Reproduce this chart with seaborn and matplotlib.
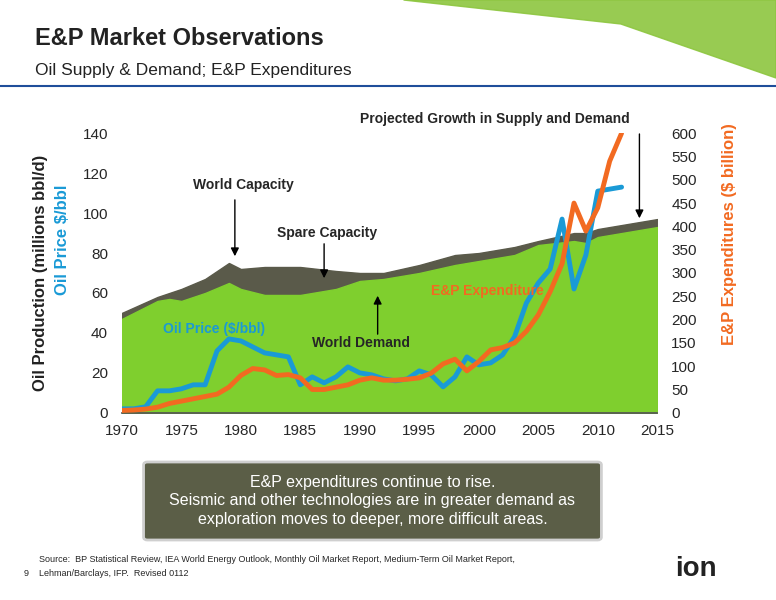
import numpy as np
import pandas as pd
import matplotlib
matplotlib.use("Agg")
import matplotlib.pyplot as plt
import seaborn as sns
from matplotlib.patches import FancyBboxPatch, Polygon

sns.set_theme(style="white")
plt.rcParams['font.family'] = ['Liberation Sans', 'DejaVu Sans']

cap_years = [1970,1973,1974,1975,1977,1979,1980,1982,1985,1988,1990,1992,1995,1998,2000,2003,2005,2008,2009,2010,2012,2015]
capacity  = [50,58,60,62,67,75,72,73,73,71,70,70,74,79,80,83,86,90,90,92,94,97]
demand    = [47,56,57,56,60,65,62,59,59,62,66,67,70,74,76,79,84,86,85,88,90,93]

price_years = list(range(1970,2013))
oil_price = [2,2,3,11,11,12,14,14,31,37,36,33,30,29,28,14,18,15,18,23,20,19,17,16,17,21,19,13,18,28,24,25,29,38,55,65,72,97,62,79,111,112,113]

exp_years = list(range(1970,2013))
expenditure = [5,6,8,12,20,25,30,35,40,55,80,95,92,80,82,75,50,50,55,60,70,75,70,70,72,75,85,105,115,90,110,135,140,150,175,210,260,320,450,390,440,540,600]

df_cap = pd.DataFrame({"year": cap_years, "capacity": capacity, "demand": demand})
df_price = pd.DataFrame({"year": price_years, "price": oil_price[:len(price_years)]})
df_exp = pd.DataFrame({"year": exp_years, "exp": expenditure})

fig = plt.figure(figsize=(7.76, 6.0), dpi=100)
fig.patch.set_facecolor("white")

fig.patches.append(Polygon([[0.52,1.0],[1.0,1.0],[1.0,0.87],[0.8,0.96]], closed=True,
                           transform=fig.transFigure, color="#8dc63f", alpha=0.9))
fig.text(0.045, 0.925, "E&P Market Observations", fontsize=17, fontweight="bold", color="#222222")
fig.text(0.045, 0.875, "Oil Supply & Demand; E&P Expenditures", fontsize=12.5, color="#222222")
fig.add_artist(plt.Line2D([0.0, 1.0], [0.857, 0.857], color="#1f4e9a", lw=1.5))

ax = fig.add_axes([0.157, 0.312, 0.690, 0.466])
ax.fill_between(df_cap.year, 0, df_cap.capacity, color="#5a5a4a")
ax.fill_between(df_cap.year, 0, df_cap.demand, color="#7fcf2e")
sns.lineplot(data=df_price, x="year", y="price", ax=ax, color="#1a9ad6", lw=3.5)
ax.set_xlim(1970, 2015)
ax.set_ylim(0, 140)
ax.set_yticks(range(0, 141, 20))
ax.set_xticks(range(1970, 2016, 5))
ax.tick_params(axis="x", labelsize=11, length=0, pad=8)
ax.tick_params(axis="y", labelsize=11, length=0, pad=10)
ax.set_xlabel("")
ax.set_ylabel("")
for s in ax.spines.values():
    s.set_visible(False)
ax.spines['bottom'].set_visible(True)
ax.spines['bottom'].set_color("#555555")

ax2 = ax.twinx()
sns.lineplot(data=df_exp, x="year", y="exp", ax=ax2, color="#f26a21", lw=3.5)
ax2.set_ylim(0, 600)
ax2.set_yticks(range(0, 601, 50))
ax2.tick_params(labelsize=11, length=0, pad=10)
ax2.set_ylabel("")
for s in ax2.spines.values():
    s.set_visible(False)

fig.text(0.052, 0.545, "Oil Production (millions bbl/d)", rotation=90, va="center", ha="center",
         fontsize=12, fontweight="bold", color="#222222")
fig.text(0.080, 0.60, "Oil Price $/bbl", rotation=90, va="center", ha="center",
         fontsize=12, fontweight="bold", color="#1a9ad6")
fig.text(0.94, 0.61, "E&P Expenditures ($ billion)", rotation=90, va="center", ha="center",
         fontsize=12, fontweight="bold", color="#f26a21")

ax.text(1976, 112, "World Capacity", fontsize=10, fontweight="bold")
ax.annotate("", xy=(1979.5, 77), xytext=(1979.5, 108), arrowprops=dict(arrowstyle="-|>", color="black"))
ax.text(1983, 88, "Spare Capacity", fontsize=10, fontweight="bold")
ax.annotate("", xy=(1987, 66), xytext=(1987, 86), arrowprops=dict(arrowstyle="-|>", color="black"))
ax.text(1973.5, 40, "Oil Price ($/bbl)", fontsize=10, fontweight="bold", color="#1a9ad6")
ax.text(1986, 33, "World Demand", fontsize=10, fontweight="bold")
ax.annotate("", xy=(1991.5, 60), xytext=(1991.5, 38), arrowprops=dict(arrowstyle="-|>", color="black"))
ax.text(1996, 59, "E&P Expenditure", fontsize=10, fontweight="bold", color="#f26a21")
ax.text(1990, 145, "Projected Growth in Supply and Demand", fontsize=10, fontweight="bold")
ax.annotate("", xy=(2013.5, 96), xytext=(2013.5, 141), arrowprops=dict(arrowstyle="-|>", color="black"),
            annotation_clip=False)

box = FancyBboxPatch((0.19, 0.105), 0.58, 0.12, boxstyle="round,pad=0.005",
                     transform=fig.transFigure, facecolor="#5b5e47", edgecolor="#cfcfcf", lw=2)
fig.patches.append(box)
fig.text(0.48, 0.165, "E&P expenditures continue to rise.\nSeismic and other technologies are in greater demand as\nexploration moves to deeper, more difficult areas.",
         ha="center", va="center", fontsize=11.5, color="white", linespacing=1.3)

fig.text(0.05, 0.063, "Source:  BP Statistical Review, IEA World Energy Outlook, Monthly Oil Market Report, Medium-Term Oil Market Report,",
         fontsize=6.5)
fig.text(0.05, 0.04, "Lehman/Barclays, IFP.  Revised 0112", fontsize=6.5)
fig.text(0.03, 0.04, "9", fontsize=6.5)
fig.text(0.87, 0.04, "ion", fontsize=20, fontweight="bold", color="#222222")

fig.savefig("out.png", dpi=100)
